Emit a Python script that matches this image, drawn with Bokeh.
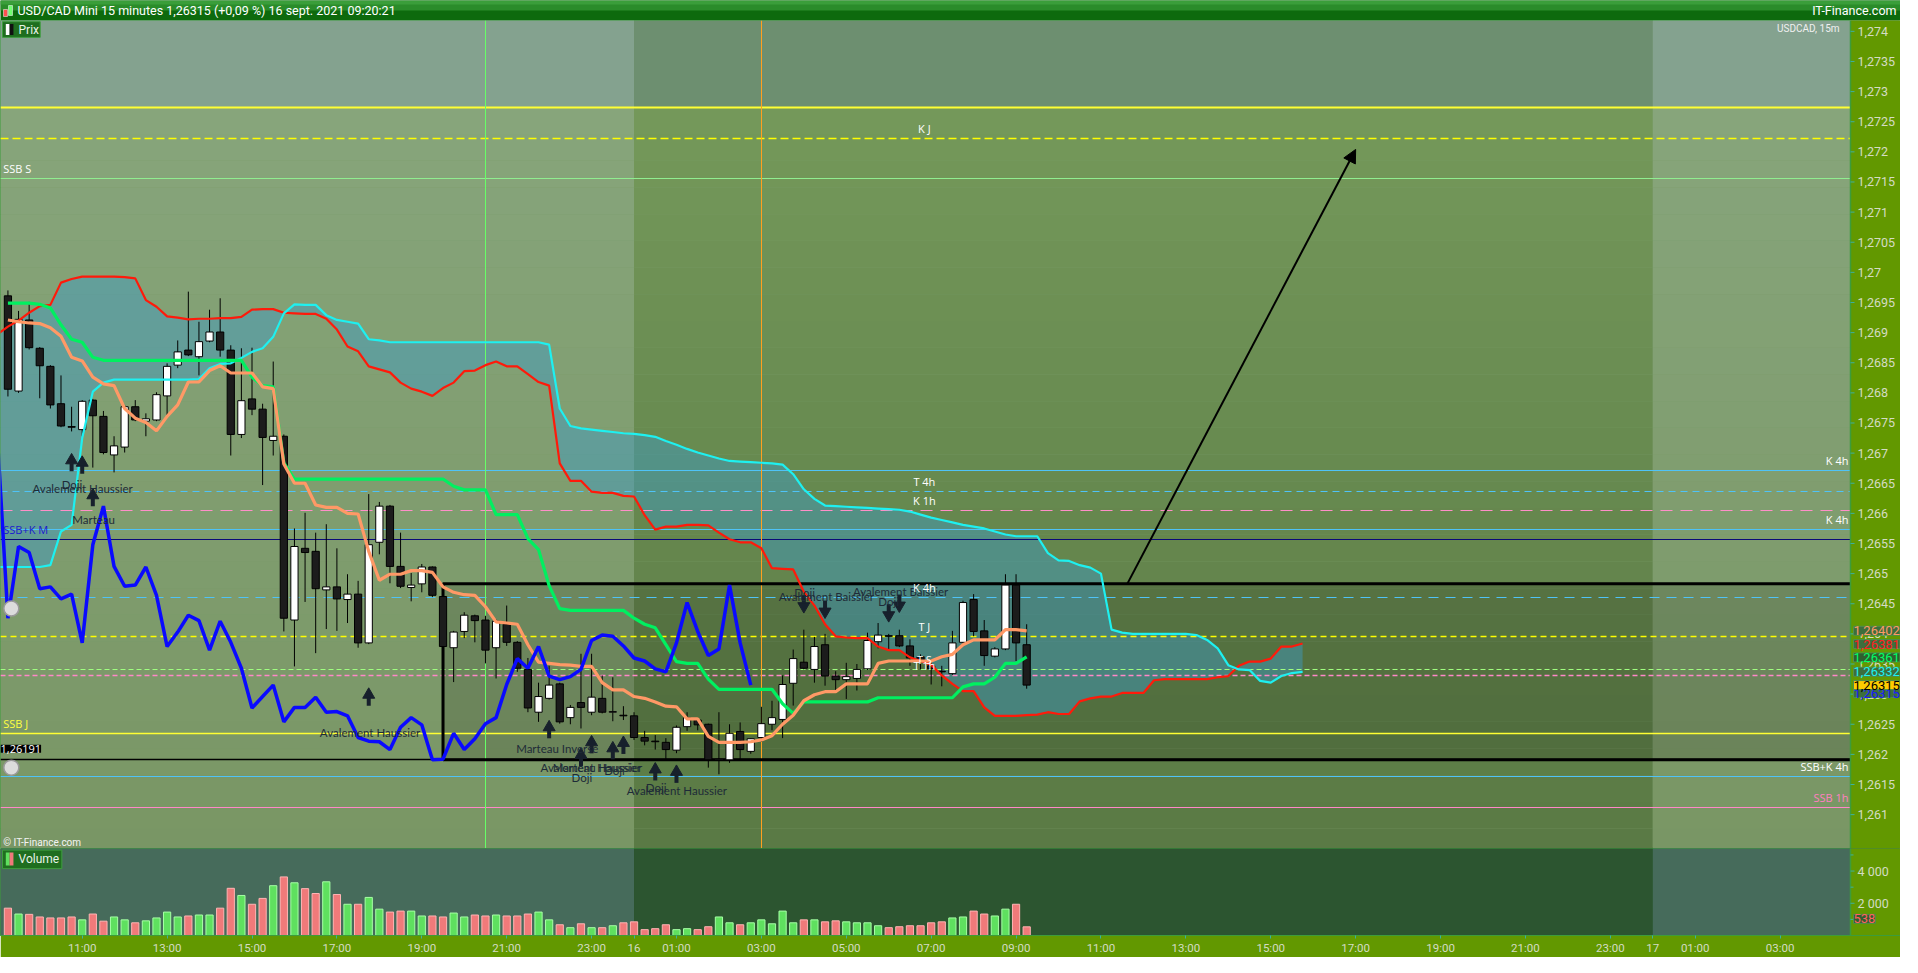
import numpy as np
from bokeh.plotting import figure
from bokeh.layouts import column
from bokeh.models import Range1d, LinearAxis, FixedTicker, Label, Arrow, NormalHead
from bokeh.core.properties import value
from bokeh.embed import file_html
from bokeh.resources import INLINE

# ---------------- data ----------------
first_bar_hour = -14.75   # 09:15 on 15 Sept, hours from 16 Sept 00:00
bar_hours = 0.25

opens = [1.26961, 1.26803, 1.26921, 1.26874, 1.26844, 1.26782, 1.26744, 1.26739, 1.26788, 1.26761,
         1.26697, 1.26710, 1.26777, 1.26753, 1.26755, 1.26795, 1.26846, 1.26871, 1.26860, 1.26886,
         1.26901, 1.26871, 1.26731, 1.26790, 1.26773, 1.26721, 1.26728, 1.26423, 1.26542, 1.26537,
         1.26473, 1.26478, 1.26457, 1.26466, 1.26385, 1.26552, 1.26612, 1.26512, 1.26477, 1.26483,
         1.26511, 1.26462, 1.26377, 1.26404, 1.26430, 1.26423, 1.26377, 1.26416, 1.26386, 1.26341,
         1.26270, 1.26293, 1.26317, 1.26261, 1.26286, 1.26270, 1.26293, 1.26270, 1.26265, 1.26264,
         1.26228, 1.26222, 1.26220, 1.26207, 1.26246, 1.26257, 1.26250, 1.26191, 1.26191, 1.26238,
         1.26205, 1.26228, 1.26250, 1.26258, 1.26318, 1.26353, 1.26341, 1.26382, 1.26330, 1.26324,
         1.26326, 1.26342, 1.26387, 1.26397, 1.26397, 1.26380, 1.26362, 1.26347, 1.26338, 1.26334,
         1.26386, 1.26457, 1.26405, 1.26363, 1.26375, 1.26481, 1.26382]
highs = [1.26970, 1.26936, 1.26951, 1.26876, 1.26846, 1.26829, 1.26777, 1.26788, 1.26790, 1.26770,
         1.26728, 1.26780, 1.26788, 1.26766, 1.26801, 1.26849, 1.26887, 1.26968, 1.26918, 1.26938,
         1.26957, 1.26879, 1.26874, 1.26875, 1.26782, 1.26852, 1.26731, 1.26575, 1.26601, 1.26568,
         1.26582, 1.26542, 1.26499, 1.26488, 1.26632, 1.26619, 1.26614, 1.26568, 1.26501, 1.26516,
         1.26512, 1.26464, 1.26405, 1.26436, 1.26432, 1.26430, 1.26424, 1.26447, 1.26388, 1.26360,
         1.26319, 1.26347, 1.26319, 1.26282, 1.26367, 1.26367, 1.26331, 1.26328, 1.26280, 1.26270,
         1.26239, 1.26232, 1.26227, 1.26248, 1.26270, 1.26261, 1.26251, 1.26270, 1.26250, 1.26253,
         1.26227, 1.26279, 1.26289, 1.26331, 1.26374, 1.26407, 1.26395, 1.26400, 1.26338, 1.26352,
         1.26350, 1.26402, 1.26418, 1.26400, 1.26407, 1.26391, 1.26366, 1.26358, 1.26347, 1.26405,
         1.26455, 1.26466, 1.26423, 1.26378, 1.26499, 1.26499, 1.26416]
lows = [1.26794, 1.26800, 1.26872, 1.26791, 1.26774, 1.26743, 1.26736, 1.26728, 1.26676, 1.26698,
        1.26668, 1.26701, 1.26753, 1.26728, 1.26753, 1.26761, 1.26841, 1.26861, 1.26829, 1.26884,
        1.26860, 1.26696, 1.26725, 1.26763, 1.26647, 1.26696, 1.26404, 1.26346, 1.26453, 1.26368,
        1.26408, 1.26405, 1.26418, 1.26377, 1.26383, 1.26532, 1.26484, 1.26476, 1.26454, 1.26469,
        1.26461, 1.26377, 1.26320, 1.26393, 1.26386, 1.26351, 1.26326, 1.26380, 1.26337, 1.26270,
        1.26254, 1.26291, 1.26251, 1.26250, 1.26243, 1.26265, 1.26268, 1.26255, 1.26257, 1.26224,
        1.26215, 1.26208, 1.26191, 1.26202, 1.26239, 1.26240, 1.26178, 1.26167, 1.26186, 1.26191,
        1.26201, 1.26221, 1.26240, 1.26227, 1.26281, 1.26341, 1.26319, 1.26314, 1.26303, 1.26292,
        1.26306, 1.26340, 1.26376, 1.26374, 1.26378, 1.26347, 1.26341, 1.26316, 1.26313, 1.26332,
        1.26384, 1.26396, 1.26347, 1.26361, 1.26373, 1.26355, 1.26309]
closes = [1.26806, 1.26922, 1.26875, 1.26845, 1.26780, 1.26745, 1.26743, 1.26786, 1.26762, 1.26701,
          1.26712, 1.26777, 1.26755, 1.26757, 1.26797, 1.26844, 1.26868, 1.26863, 1.26885, 1.26901,
          1.26871, 1.26731, 1.26787, 1.26773, 1.26726, 1.26728, 1.26426, 1.26545, 1.26535, 1.26475,
          1.26478, 1.26458, 1.26466, 1.26385, 1.26548, 1.26612, 1.26512, 1.26479, 1.26481, 1.26511,
          1.26464, 1.26379, 1.26403, 1.26431, 1.26422, 1.26373, 1.26421, 1.26386, 1.26343, 1.26277,
          1.26296, 1.26315, 1.26254, 1.26278, 1.26278, 1.26295, 1.26270, 1.26271, 1.26264, 1.26228,
          1.26222, 1.26221, 1.26208, 1.26245, 1.26261, 1.26249, 1.26191, 1.26192, 1.26235, 1.26208,
          1.26226, 1.26251, 1.26261, 1.26316, 1.26359, 1.26343, 1.26379, 1.26330, 1.26324, 1.26329,
          1.26341, 1.26389, 1.26398, 1.26396, 1.26380, 1.26360, 1.26355, 1.26342, 1.26337, 1.26385,
          1.26452, 1.26404, 1.26364, 1.26375, 1.26481, 1.26385, 1.26315]
volumes = [1697, 1333, 1313, 1151, 1091, 1091, 1151, 970, 1333, 889,
           1151, 970, 788, 909, 1091, 1454, 1151, 1212, 1272, 1272,
           1697, 2929, 2485, 1939, 2303, 3091, 3636, 3272, 2909, 2606,
           3333, 2545, 1939, 1939, 2364, 1636, 1454, 1515, 1515, 1212,
           1212, 1151, 1394, 1151, 1272, 1212, 1272, 1212, 1212, 1333,
           1454, 970, 667, 485, 727, 485, 485, 606, 788, 848,
           364, 424, 667, 364, 424, 364, 545, 1151, 788, 667,
           788, 970, 727, 1515, 788, 970, 970, 848, 909, 848,
           788, 788, 606, 485, 545, 606, 606, 788, 848, 1091,
           1151, 1515, 1333, 1212, 1636, 1939, 538]

# Tenkan (orange) and Kijun (green), one value per bar
tenkan = [1.26921, 1.26918, 1.26916, 1.26915, 1.26908, 1.26894, 1.26859, 1.26853, 1.26826, 1.26815,
          1.26812, 1.26774, 1.26758, 1.26751, 1.26737, 1.26761, 1.26780, 1.26818, 1.26818, 1.26837,
          1.26845, 1.26833, 1.26833, 1.26833, 1.26810, 1.26807, 1.26682, 1.26650, 1.26650, 1.26614,
          1.26610, 1.26610, 1.26600, 1.26599, 1.26537, 1.26489, 1.26499, 1.26499, 1.26505, 1.26505,
          1.26502, 1.26478, 1.26469, 1.26465, 1.26464, 1.26445, 1.26420, 1.26418, 1.26416, 1.26382,
          1.26353, 1.26351, 1.26349, 1.26348, 1.26346, 1.26346, 1.26319, 1.26307, 1.26307, 1.26296,
          1.26293, 1.26287, 1.26280, 1.26279, 1.26259, 1.26259, 1.26230, 1.26220, 1.26220, 1.26220,
          1.26221, 1.26224, 1.26231, 1.26250, 1.26265, 1.26289, 1.26299, 1.26304, 1.26304, 1.26317,
          1.26317, 1.26317, 1.26351, 1.26355, 1.26355, 1.26355, 1.26355, 1.26355, 1.26362, 1.26366,
          1.26382, 1.26390, 1.26390, 1.26390, 1.26407, 1.26407, 1.26405]
kijun = [1.26949, 1.26949, 1.26949, 1.26947, 1.26941, 1.26913, 1.26889, 1.26884, 1.26859, 1.26854,
         1.26854, 1.26854, 1.26854, 1.26854, 1.26854, 1.26854, 1.26854, 1.26854, 1.26854, 1.26854,
         1.26854, 1.26854, 1.26854, 1.26826, 1.26812, 1.26810, 1.26684, 1.26657, 1.26657, 1.26657,
         1.26657, 1.26657, 1.26657, 1.26657, 1.26657, 1.26657, 1.26657, 1.26657, 1.26657, 1.26657,
         1.26657, 1.26657, 1.26645, 1.26639, 1.26639, 1.26639, 1.26598, 1.26598, 1.26598, 1.26558,
         1.26540, 1.26480, 1.26442, 1.26439, 1.26439, 1.26439, 1.26439, 1.26439, 1.26439, 1.26426,
         1.26416, 1.26410, 1.26382, 1.26354, 1.26351, 1.26351, 1.26325, 1.26308, 1.26308, 1.26308,
         1.26308, 1.26308, 1.26308, 1.26284, 1.26268, 1.26287, 1.26287, 1.26287, 1.26287, 1.26287,
         1.26287, 1.26287, 1.26294, 1.26294, 1.26294, 1.26294, 1.26294, 1.26294, 1.26294, 1.26294,
         1.26312, 1.26317, 1.26317, 1.26328, 1.26351, 1.26351, 1.26362]

# Senkou span A (red) and B (cyan): from bar -1 to bar 122 (26 bars ahead)
cloud_first_bar = -1
ssa = [1.26897, 1.26910, 1.26920, 1.26933, 1.26944, 1.26946, 1.26983, 1.26989, 1.26993, 1.26993,
       1.26993, 1.26993, 1.26992, 1.26990, 1.26954, 1.26943, 1.26927, 1.26925, 1.26922, 1.26923,
       1.26923, 1.26924, 1.26924, 1.26926, 1.26938, 1.26939, 1.26939, 1.26933, 1.26932, 1.26931,
       1.26931, 1.26923, 1.26905, 1.26877, 1.26869, 1.26844, 1.26839, 1.26834, 1.26817, 1.26807,
       1.26802, 1.26795, 1.26808, 1.26817, 1.26836, 1.26837, 1.26846, 1.26852, 1.26844, 1.26844,
       1.26831, 1.26818, 1.26812, 1.26683, 1.26654, 1.26654, 1.26636, 1.26634, 1.26634, 1.26629,
       1.26628, 1.26597, 1.26573, 1.26578, 1.26578, 1.26581, 1.26581, 1.26580, 1.26568, 1.26557,
       1.26552, 1.26552, 1.26542, 1.26509, 1.26508, 1.26507, 1.26470, 1.26447, 1.26416, 1.26396,
       1.26394, 1.26393, 1.26393, 1.26379, 1.26373, 1.26373, 1.26361, 1.26355, 1.26349, 1.26331,
       1.26317, 1.26305, 1.26305, 1.26278, 1.26264, 1.26264, 1.26264, 1.26265, 1.26266, 1.26270,
       1.26267, 1.26267, 1.26288, 1.26293, 1.26296, 1.26296, 1.26302, 1.26302, 1.26302, 1.26323,
       1.26325, 1.26325, 1.26325, 1.26325, 1.26325, 1.26328, 1.26330, 1.26347, 1.26354, 1.26354,
       1.26359, 1.26379, 1.26379, 1.26384]
ssb = [1.26511, 1.26511, 1.26511, 1.26511, 1.26511, 1.26514, 1.26570, 1.26581, 1.26725, 1.26802,
       1.26817, 1.26822, 1.26822, 1.26822, 1.26822, 1.26822, 1.26822, 1.26822, 1.26822, 1.26823,
       1.26841, 1.26848, 1.26849, 1.26858, 1.26868, 1.26874, 1.26893, 1.26932, 1.26947, 1.26946,
       1.26946, 1.26929, 1.26921, 1.26918, 1.26915, 1.26889, 1.26887, 1.26884, 1.26884, 1.26884,
       1.26884, 1.26884, 1.26884, 1.26884, 1.26884, 1.26884, 1.26884, 1.26884, 1.26884, 1.26884,
       1.26884, 1.26884, 1.26880, 1.26774, 1.26745, 1.26741, 1.26739, 1.26737, 1.26735, 1.26733,
       1.26732, 1.26730, 1.26727, 1.26720, 1.26714, 1.26707, 1.26701, 1.26696, 1.26691, 1.26687,
       1.26686, 1.26685, 1.26684, 1.26683, 1.26681, 1.26665, 1.26640, 1.26624, 1.26613, 1.26612,
       1.26611, 1.26610, 1.26609, 1.26608, 1.26607, 1.26606, 1.26603, 1.26598, 1.26593, 1.26589,
       1.26585, 1.26581, 1.26578, 1.26575, 1.26570, 1.26565, 1.26562, 1.26562, 1.26562, 1.26534,
       1.26522, 1.26521, 1.26514, 1.26510, 1.26500, 1.26407, 1.26402, 1.26400, 1.26400, 1.26400,
       1.26400, 1.26400, 1.26400, 1.26398, 1.26390, 1.26376, 1.26348, 1.26341, 1.26340, 1.26322,
       1.26319, 1.26330, 1.26335, 1.26337]
chikou_lag = 26

# horizontal levels
level_prices = [1.27274, 1.27222, 1.27155, 1.26671, 1.26637, 1.26604, 1.26573, 1.26557,
                1.26460, 1.26395, 1.26341, 1.26331, 1.26235, 1.26191, 1.26163, 1.26112]
level_names = ["", "K J", "SSB S", "K 4h", "T 4h", "K 1h", "K 4h", "SSB+K M",
               "K 4h", "T J", "T S", "T 1h", "SSB J", "1,26191", "SSB+K 4h", "SSB 1h"]

# range box and drawn arrow
box_start_hour = -4.5
box_top, box_bottom = 1.26483, 1.26191
trend_arrow = (11.62, 1.26483, 17.0, 1.27204)
vertical_marks = [-3.5, 3.0]

# candle pattern annotations
up_arrow_bars = [6, 7, 8, 34, 51, 54, 55, 57, 58, 61, 63]
up_arrow_prices = [1.26683, 1.26679, 1.26625, 1.26294, 1.26240, 1.26194, 1.26215, 1.26205, 1.26214, 1.26170, 1.26166]
down_arrow_bars = [75, 77, 83, 84]
down_arrow_prices = [1.26451, 1.26442, 1.26436, 1.26452]
pattern_texts = ["Avalement Haussier", "Doji", "Marteau", "Avalement Haussier", "Marteau Inversé",
                 "Avalement Haussier", "Marteau Haussier", "Doji", "Doji", "Doji", "Avalement Haussier",
                 "Doji", "Avalement Baissier", "Avalement Baissier", "Doji"]
pattern_hours = [-12.99, -13.24, -12.73, -6.22, -1.81, -1.02, -0.86, -1.23, -0.46, 0.52, 1.01,
                 4.02, 4.53, 6.28, 6.00]
pattern_prices = [1.26642, 1.26648, 1.26590, 1.26237, 1.26209, 1.26179, 1.26179, 1.26161, 1.26173,
                  1.26145, 1.26140, 1.26469, 1.26462, 1.26470, 1.26454]

# value tags on the price scale: Tenkan, SSA, Kijun, SSB, last price, Chikou
tag_texts = ["1,26402", "1,26381", "1,26361", "1,26332", "1,26315", "1,26315"]
tag_values = [1.26402, 1.26381, 1.26361, 1.26332, 1.26315, 1.26315]

price_ticks = [round(1.261 + 0.0005 * k, 4) for k in range(27)]
volume_ticks = [2000, 4000]
volume_minor_ticks = [1000, 3000, 5000]
time_ticks = [-13, -11, -9, -7, -5, -3, -1, 0, 1, 3, 5, 7, 9, 11, 13, 15, 17, 19, 21, 23, 24, 25, 27]
time_labels = ["11:00", "13:00", "15:00", "17:00", "19:00", "21:00", "23:00", "16", "01:00", "03:00",
               "05:00", "07:00", "09:00", "11:00", "13:00", "15:00", "17:00", "19:00", "21:00", "23:00",
               "17", "01:00", "03:00"]

# ---------------- layout ----------------
FW, RB = 1850, 50
PH, VH, AXB, HH = 828, 87, 21, 20
X0, X1 = -14.925, 28.658
HPX = (X1 - X0) / FW            # hours per pixel
X1E = X1 + RB * HPX             # frame extends over the price-scale column
Y0, Y1 = 1.260438, 1.27418
VY1 = 5400
PX = (Y1 - Y0) / PH
VPX = VY1 / VH

n = len(opens)
t = [first_bar_hour + bar_hours * i for i in range(n)]
tc = [first_bar_hour + bar_hours * (cloud_first_bar + k) for k in range(len(ssa))]
chikou_t = [first_bar_hour + bar_hours * j for j in range(-1, n - chikou_lag)]
chikou_y = closes[chikou_lag - 1:]

OLIVE = "#629800"
EDGE = "#3c9c3c"
TICKC = "#3cb0a0"
LABC = "#d4dcc4"


def hex2rgb(h):
    return np.array([int(h[i:i + 2], 16) for i in (1, 3, 5)], dtype=float)


def grad(c0, c1, k):
    a, b = hex2rgb(c0), hex2rgb(c1)
    return ['#%02x%02x%02x' % tuple(int(round(v)) for v in a + (b - a) * j / max(k - 1, 1)) for j in range(k)]


def fmt_price(v):
    s = ("%.5f" % v).rstrip("0").rstrip(".")
    return s.replace(".", ",")


# header
h = figure(frame_width=FW + RB, frame_height=HH, x_range=Range1d(0, FW + RB), y_range=Range1d(0, HH),
           toolbar_location=None, output_backend="svg", min_border=0,
           x_axis_type=None, y_axis_type=None, outline_line_color=None, background_fill_color="#0d6a0d")
h.quad(left=0, right=FW + RB, bottom=HH * 0.5, top=HH, fill_color="#2a8c2a", line_color=None)
h.quad(left=0, right=FW + RB, bottom=HH * 0.8, top=HH, fill_color="#3a9e3a", line_color=None)
h.quad(left=[3, 8], right=[7, 12], bottom=[4, 5], top=[11, 15], fill_color=["#ff5050", "#70ff70"],
       line_color=["#ffffff", "#ffffff"], line_width=0.5)
h.add_layout(Label(x=17, y=HH / 2, text="USD/CAD Mini 15 minutes 1,26315 (+0,09 %) 16 sept. 2021 09:20:21",
                   text_color="#ffffff", text_font="Roboto", text_font_size="12.5px", text_baseline="middle"))
h.add_layout(Label(x=FW + RB - 4, y=HH / 2, text="IT-Finance.com", text_color="#ffffff", text_font="Roboto",
                   text_font_size="12.5px", text_baseline="middle", text_align="right"))

# price figure (frame covers the price scale column too)
p = figure(frame_width=FW + RB, frame_height=PH, x_range=Range1d(X0, X1E), y_range=Range1d(Y0, Y1),
           toolbar_location=None, output_backend="svg", min_border=0,
           x_axis_type=None, y_axis_type=None,
           outline_line_color=EDGE, border_fill_color=OLIVE, background_fill_color="#7a9a6a")

regions = [(-20, 0, True), (0, 24, False), (24, 40, True)]
NB = 30
for (xa, xb, light) in regions:
    top_c = "#84a28f" if light else "#6d8f70"
    g0, g1 = ("#87a57b", "#789563") if light else ("#74985a", "#587843")
    p.quad(left=xa, right=xb, bottom=level_prices[0], top=Y1 + 0.001, fill_color=top_c, line_color=None)
    ys = np.linspace(level_prices[0], Y0 - 0.001, NB + 1)
    p.quad(left=[xa] * NB, right=[xb] * NB, top=list(ys[:-1]), bottom=list(ys[1:]),
           fill_color=grad(g0, g1, NB), line_color=None)

# range box fill
p.quad(left=box_start_hour, right=X1 + 5, bottom=box_bottom, top=box_top, fill_color="#000000",
       fill_alpha=0.13, line_color=None)

# cloud
p.varea(x=tc, y1=ssa, y2=ssb, fill_color="#3c9cc8", fill_alpha=0.45)

# horizontal levels
level_styles = [
    ("#ffff33", 2, "solid"), ("#ffff00", 1.5, "8 4"), ("#90ee90", 1, "solid"), ("#4fc3f7", 1, "solid"),
    ("#4fc3f7", 1.2, "7 5"), ("#ff8fc8", 1.2, "12 8"), ("#4fc3f7", 1, "solid"), ("#0a0a78", 1.2, "solid"),
    ("#4fc3f7", 1.2, "10 7"), ("#ffff00", 1.5, "6 4"), ("#a0ff80", 1.2, "5 3"), ("#ff88c8", 1.5, "5 3"),
    ("#ffff33", 1.5, "solid"), ("#000000", 1.5, "solid"), ("#4fc3f7", 1.2, "solid"), ("#ff88c8", 1.2, "solid"),
]
for price, (col, lw, dash) in zip(level_prices, level_styles):
    p.hspan(y=[price], line_color=col, line_width=lw, line_dash=dash)

p.vspan(x=[vertical_marks[0]], line_color="#66ff66", line_width=1)
p.vspan(x=[vertical_marks[1]], line_color="#ffa020", line_width=1)

# range box border
p.quad(left=box_start_hour, right=X1 + 5, bottom=box_bottom, top=box_top, fill_color=None,
       line_color="#000000", line_width=3)

# candles
bull = [c >= o for o, c in zip(opens, closes)]
p.segment(x0=t, y0=lows, x1=t, y1=highs, line_color="#000000", line_width=1)
p.vbar(x=t, width=0.17, top=[max(o, c) for o, c in zip(opens, closes)],
       bottom=[min(o, c) for o, c in zip(opens, closes)],
       fill_color=["#ffffff" if b else "#1c1c1c" for b in bull], line_color="#000000", line_width=1)

# ichimoku lines
p.line(tc, ssa, line_color="#ff1a0a", line_width=2.2)
p.line(tc, ssb, line_color="#1ef0f0", line_width=2.2)
p.line(t, kijun, line_color="#00f060", line_width=3.2)
p.line(t, tenkan, line_color="#ff9966", line_width=3.2)
p.line(chikou_t, chikou_y, line_color="#0a0aff", line_width=3.5)

# pattern arrows
ux = [t[i] for i in up_arrow_bars]
p.scatter(ux, [y + 3 * PX for y in up_arrow_prices], marker="triangle", size=12,
          fill_color="#17202c", line_color="#17202c")
p.rect(ux, [y - 4 * PX for y in up_arrow_prices], width=4, height=8, width_units="screen",
       height_units="screen", fill_color="#17202c", line_color=None)
dx = [t[i] for i in down_arrow_bars]
p.scatter(dx, [y - 3 * PX for y in down_arrow_prices], marker="inverted_triangle", size=12,
          fill_color="#17202c", line_color="#17202c")
p.rect(dx, [y + 4 * PX for y in down_arrow_prices], width=4, height=8, width_units="screen",
       height_units="screen", fill_color="#17202c", line_color=None)

# bells
p.scatter([-14.67, -14.67], [1.26442, 1.26178], marker="circle", size=15, fill_color="#dcdcdc",
          line_color="#9a9a9a", line_width=1.5)

# legend box
p.quad(left=-14.878, right=-13.99, bottom=1.27390, top=1.27416, fill_color="#1f6e1f", line_color="#3e9e3e")
p.quad(left=[-14.80, -14.71], right=[-14.71, -14.62], bottom=1.27394, top=1.27412,
       fill_color=["#ffffff", "#111111"], line_color=None)

# price scale column
p.quad(left=X1, right=X1E + 1, bottom=Y0 - 0.01, top=Y1 + 0.01, fill_color=OLIVE, line_color=None)
p.vspan(x=[X1], line_color=EDGE, line_width=1.5)
p.segment(x0=[X1] * len(price_ticks), x1=[X1 + 4 * HPX] * len(price_ticks), y0=price_ticks, y1=price_ticks,
          line_color=TICKC, line_width=1)
p.text(x=[X1 + 7 * HPX] * len(price_ticks), y=price_ticks, text=[fmt_price(v) for v in price_ticks],
       text_color=LABC, text_font=value("Roboto"), text_font_size="12.5px", text_baseline="middle")

# trend arrow
p.add_layout(Arrow(x_start=trend_arrow[0], y_start=trend_arrow[1], x_end=trend_arrow[2], y_end=trend_arrow[3],
                   line_color="#000000", line_width=2,
                   end=NormalHead(size=13, fill_color="#000000", line_color="#000000")))

for txt, hx, py in zip(pattern_texts, pattern_hours, pattern_prices):
    p.add_layout(Label(x=hx, y=py, text=txt, text_color="#1e2b38", text_font="Lato", text_font_size="11.5px",
                       text_align="center", text_baseline="middle"))

# level names
name_pos = ["", "center", "left", "right", "center", "center", "right", "left",
            "center", "center", "center", "center", "left", "box", "right", "right"]
name_col = ["", "#ffffff", "#ffffff", "#ffffff", "#ffffff", "#ffffff", "#ffffff", "#1a1ad0",
            "#ffffff", "#ffffff", "#ffffff", "#ffffff", "#ffff40", "#ffffff", "#ffffff", "#ff80c0"]
for name, price, pos, col in zip(level_names, level_prices, name_pos, name_col):
    if not name:
        continue
    if pos == "center":
        lx, al = 6.84, "center"
    elif pos == "left":
        lx, al = -14.86, "left"
    elif pos == "right":
        lx, al = 28.61, "right"
    else:
        lx, al = X0, "left"
    kw = dict(background_fill_color="#000000") if pos == "box" else {}
    p.add_layout(Label(x=lx, y=price, y_offset=(10 if pos != "box" else 11), text=name, text_color=col,
                       text_font="Open Sans", text_font_size="11px", text_align=al, text_baseline="middle", **kw))

p.add_layout(Label(x=-14.50, y=1.27403, text="Prix", text_color="#e8f4e8", text_font="Roboto",
                   text_font_size="12px", text_baseline="middle"))
p.add_layout(Label(x=28.40, y=1.27405, text="USDCAD, 15m", text_color="#f0f0f0", text_font="Roboto",
                   text_font_size="10px", text_baseline="middle", text_align="right"))
p.add_layout(Label(x=-14.86, y=1.26054, text="© IT-Finance.com", text_color="#f4f4f4", text_font="Roboto",
                   text_font_size="10px", text_baseline="middle"))

# value tags over the price scale, stacked upward from the last-price tag
TAG_GAP = 13.3 * PX
tag_pos = {}
prev = None
for k in [4, 3, 2, 1, 0]:
    yk = tag_values[k] if prev is None else max(tag_values[k], prev + TAG_GAP)
    tag_pos[k] = yk
    prev = yk
tag_pos[5] = tag_pos[4] - 8 * PX
tag_styles = [("#ff9966", "#3d6e3d"), ("#ff2020", "#3d6e3d"), ("#00ff66", "#2f5f2f"),
              ("#1ef0f0", "#3d6e3d"), ("#000000", "#ffcc00"), ("#1a1aff", "#3d6e3d")]
for k in [5, 0, 1, 2, 3, 4]:
    col, bg = tag_styles[k]
    p.add_layout(Label(x=X1 + 3 * HPX, y=tag_pos[k], text=tag_texts[k], text_color=col,
                       background_fill_color=bg, border_line_color="#4e8e4e", text_font="Roboto",
                       text_font_size="13px", text_baseline="middle"))

# volume figure
v = figure(frame_width=FW + RB, frame_height=VH, x_range=p.x_range, y_range=Range1d(0, VY1),
           toolbar_location=None, output_backend="svg", min_border_left=0, min_border_right=0,
           min_border_top=0, min_border_bottom=AXB, x_axis_type=None, y_axis_type=None,
           outline_line_color=EDGE, border_fill_color=OLIVE, background_fill_color="#2c5530")
for (xa, xb, light) in regions:
    v.quad(left=xa, right=xb, bottom=-100, top=6000, fill_color="#466b5b" if light else "#2c5530", line_color=None)
v.vbar(x=t, width=0.17, top=volumes, bottom=0,
       fill_color=["#5fe05f" if b else "#f07a7a" for b in bull],
       line_color=["#a6ffa6" if b else "#ffb4b4" for b in bull], line_width=1)

v.quad(left=-14.878, right=-13.48, bottom=4150, top=5300, fill_color="#1f6e1f", line_color="#3e9e3e")
v.quad(left=[-14.80, -14.71], right=[-14.71, -14.62], bottom=4350, top=5150,
       fill_color=["#5fe05f", "#f07a7a"], line_color=None)
v.add_layout(Label(x=-14.50, y=4720, text="Volume", text_color="#e8f4e8", text_font="Roboto",
                   text_font_size="12px", text_baseline="middle"))

v.quad(left=X1, right=X1E + 1, bottom=-1000, top=VY1 + 1000, fill_color=OLIVE, line_color=None)
v.vspan(x=[X1], line_color=EDGE, line_width=1.5)
v.segment(x0=[X1] * 2, x1=[X1 + 4 * HPX] * 2, y0=volume_ticks, y1=volume_ticks, line_color=TICKC)
v.segment(x0=[X1] * 3, x1=[X1 + 3 * HPX] * 3, y0=volume_minor_ticks, y1=volume_minor_ticks, line_color=TICKC)
v.text(x=[X1 + 7 * HPX] * 2, y=volume_ticks, text=["{:,}".format(k).replace(",", " ") for k in volume_ticks],
       text_color=LABC, text_font=value("Roboto"), text_font_size="12.5px", text_baseline="middle")
v.add_layout(Label(x=X1 + 3 * HPX, y=volumes[-1], y_offset=8, text=str(volumes[-1]), text_color="#ff6060",
                   background_fill_color="#2f5f2f", border_line_color="#4e8e4e", text_font="Roboto",
                   text_font_size="13px", text_baseline="middle"))

xaxis = LinearAxis(ticker=FixedTicker(ticks=time_ticks))
xaxis.major_label_overrides = {tk: lb for tk, lb in zip(time_ticks, time_labels)}
xaxis.axis_line_color = EDGE
xaxis.major_tick_line_color = TICKC
xaxis.major_tick_out = 3
xaxis.major_tick_in = 0
xaxis.minor_tick_line_color = None
xaxis.major_label_text_color = LABC
xaxis.major_label_text_font = "Roboto"
xaxis.major_label_text_font_size = "11.5px"
xaxis.major_label_standoff = 2
v.add_layout(xaxis, "below")

layout = column(h, p, v, spacing=0)
open("out.html", "w").write(file_html(layout, INLINE))
